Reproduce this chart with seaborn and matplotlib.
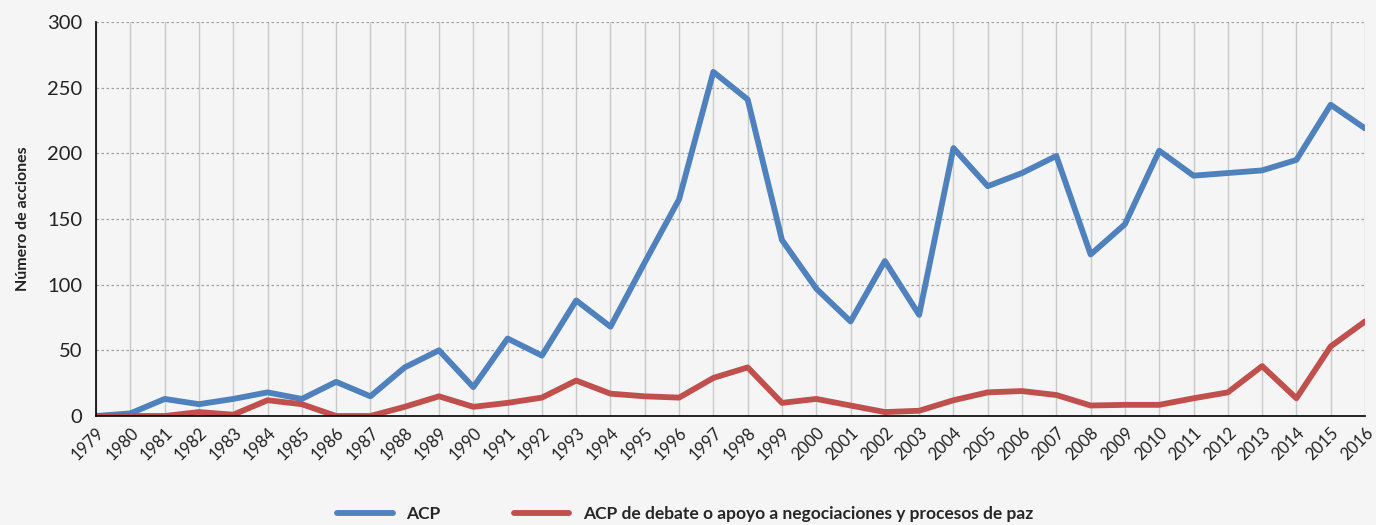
import seaborn as sns
import matplotlib.pyplot as plt
import pandas as pd

sns.set_style("white")
plt.rcParams["font.family"] = ["Lato", "DejaVu Sans"]

# Años y número de acciones
years = list(range(1979, 2017))
acp = [0, 2, 13, 9, 13, 18, 13, 26, 15, 37, 50, 22, 59, 46, 88, 68, 117, 165,
       262, 241, 134, 97, 72, 118, 77, 204, 175, 185, 198, 123, 146, 202, 183,
       185, 187, 195, 237, 219]
acp_paz = [0, 0, 0, 3, 1, 12, 9, 0, 0, 7, 15, 7, 10, 14, 27, 17, 15, 14,
           29, 37, 10, 13, 8, 3, 4, 12, 18, 19, 16, 8, 8.5, 8.5, 13.5, 18, 38,
           13.5, 53, 72]
series_names = ["ACP", "ACP de debate o apoyo a negociaciones y procesos de paz"]
colors = ["#4f81bd", "#c0504d"]

df = pd.DataFrame({
    "year": years * 2,
    "value": acp + acp_paz,
    "serie": [series_names[0]] * len(years) + [series_names[1]] * len(years),
})

bg = "#f5f5f5"
fig = plt.figure(figsize=(13.76, 5.25), facecolor=bg)
ax = fig.add_axes([0.0698, 0.2076, 0.9222, 0.7505])
ax.set_facecolor(bg)

sns.lineplot(data=df, x="year", y="value", hue="serie", palette=colors,
             linewidth=4.2, ax=ax, legend=False, solid_capstyle="round")

ax.set_xlim(1979, 2016)
ax.set_ylim(0, 300)
ax.set_yticks(range(0, 301, 50))
ax.set_xticks(years)
ax.set_xticklabels([str(y) for y in years], rotation=45, ha="right",
                   rotation_mode="anchor", fontsize=12, color="#222222")
ax.tick_params(axis="y", labelsize=14.5, colors="#222222", length=0, pad=10)
ax.tick_params(axis="x", length=0, pad=6)

ax.grid(axis="y", linestyle=(0, (2, 2)), color="#a0a0a0", linewidth=0.9)
ax.grid(axis="x", linestyle="-", color="#c8c8c8", linewidth=1.0)
ax.set_axisbelow(True)

for side in ["top", "right"]:
    ax.spines[side].set_visible(False)
for side in ["left", "bottom"]:
    ax.spines[side].set_color("#000000")
    ax.spines[side].set_linewidth(1.2)

ax.set_xlabel("")
ax.set_ylabel("Número de acciones", fontsize=11.5, fontweight="bold",
              color="#222222", labelpad=12)

handles = [plt.Line2D([0], [0], color=c, lw=4.2, solid_capstyle="round")
           for c in colors]
fig.legend(handles, series_names, loc="center", ncol=2,
           bbox_to_anchor=(0.498, 0.021), frameon=False, handlelength=3.2,
           columnspacing=4.2, prop={"weight": "bold", "size": 12.5})

fig.savefig("out.png", dpi=100, facecolor=bg)
plt.close()
